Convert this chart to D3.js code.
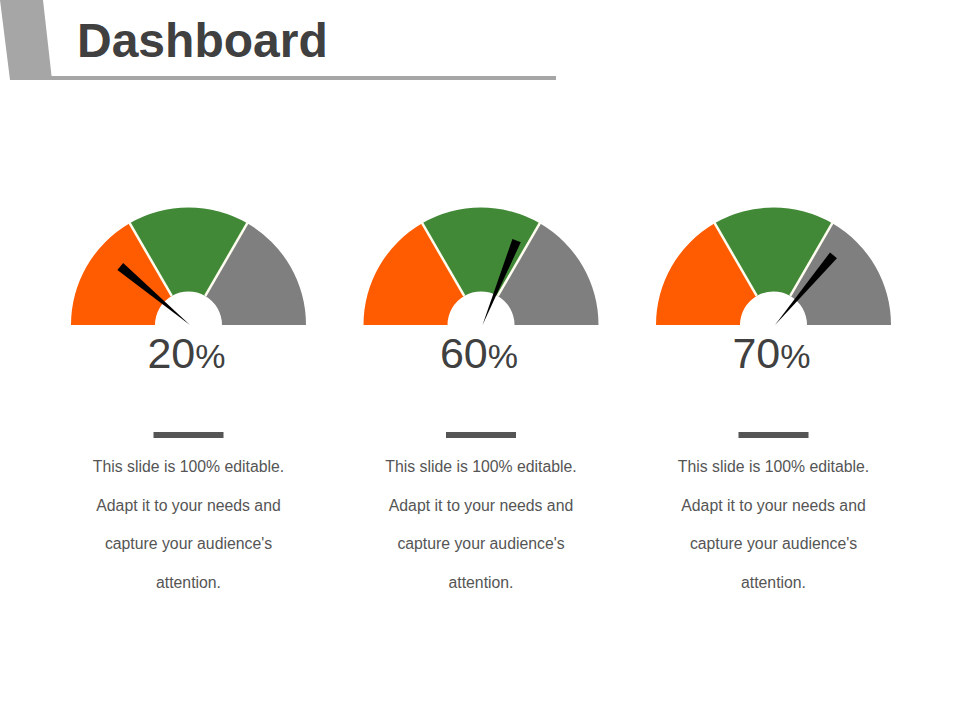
<!DOCTYPE html>
<html><head><meta charset="utf-8">
<script src="https://cdn.jsdelivr.net/npm/d3@7"></script>
<style>
html,body{margin:0;padding:0;background:#fff;}
svg{display:block;font-family:"Liberation Sans",Arial,sans-serif;}
</style></head>
<body>
<svg id="c" width="960" height="720"></svg>
<script>
const title = "Dashboard";
const gaugeValues = [20, 60, 70];
const bandStops = [0, 33.333, 66.667, 100];
const bandColors = ["#ff5b00", "#418936", "#7f7f7f"];
const descLines = ["This slide is 100% editable.", "Adapt it to your needs and", "capture your audience's", "attention."];

const svg = d3.select("#c");

// header
svg.append("path").attr("d", "M0,0 L43,0 L52,80 L10,80 Z").attr("fill", "#a6a6a6");
svg.append("rect").attr("x", 48).attr("y", 76).attr("width", 508).attr("height", 4).attr("fill", "#a6a6a6");
svg.append("text").attr("x", 77).attr("y", 57).attr("font-size", 48).attr("font-weight", "bold")
  .attr("fill", "#404040").text(title);

const centers = d3.scalePoint().domain(d3.range(gaugeValues.length)).range([188.5, 773.5]);
const angle = d3.scaleLinear().domain([0, 100]).range([-Math.PI / 2, Math.PI / 2]);
const needleOffset = 4 * Math.PI / 180;
const cy = 325, rOuter = 117.5, rInner = 33.5, needleLen = 91, needleW = 9;

const arc = d3.arc().innerRadius(rInner).outerRadius(rOuter);

gaugeValues.forEach((v, i) => {
  const cx = centers(i);
  const g = svg.append("g").attr("transform", `translate(${cx},${cy})`);
  const bands = d3.range(bandColors.length).map(k => ({start: bandStops[k], end: bandStops[k + 1], color: bandColors[k]}));
  g.selectAll("path.band").data(bands).join("path").attr("class", "band")
    .attr("d", d => arc({startAngle: angle(d.start), endAngle: angle(d.end)}))
    .attr("fill", d => d.color);
  // separators
  g.selectAll("line.sep").data(bandStops.slice(1, -1)).join("line").attr("class", "sep")
    .attr("x1", d => rInner * Math.sin(angle(d))).attr("y1", d => -rInner * Math.cos(angle(d)))
    .attr("x2", d => (rOuter + 1) * Math.sin(angle(d))).attr("y2", d => -(rOuter + 1) * Math.cos(angle(d)))
    .attr("stroke", "#fffdf0").attr("stroke-width", 2.5);
  // needle
  const a = angle(v) + needleOffset;
  const ux = Math.sin(a), uy = -Math.cos(a);
  const px = -uy, py = ux;
  const bx = 1.5;
  const pts = [[bx, 0],
    [bx + ux * needleLen + px * needleW / 2, uy * needleLen + py * needleW / 2],
    [bx + ux * needleLen - px * needleW / 2, uy * needleLen - py * needleW / 2]];
  g.append("path").attr("d", d3.line()(pts) + "Z").attr("fill", "#000");
  // value text
  const t = svg.append("text").attr("x", cx - 2).attr("y", 368).attr("text-anchor", "middle").attr("fill", "#404040");
  t.append("tspan").attr("font-size", 43).text(v);
  t.append("tspan").attr("font-size", 34).text("%");
  // bar
  svg.append("rect").attr("x", cx - 35).attr("y", 432).attr("width", 70).attr("height", 6).attr("fill", "#555555");
  // description
  svg.selectAll(null).data(descLines).join("text")
    .attr("x", cx).attr("y", (d, k) => 472 + k * 38.5)
    .attr("text-anchor", "middle").attr("font-size", 15.8).attr("fill", "#555555").text(d => d);
});
</script>
</body></html>
